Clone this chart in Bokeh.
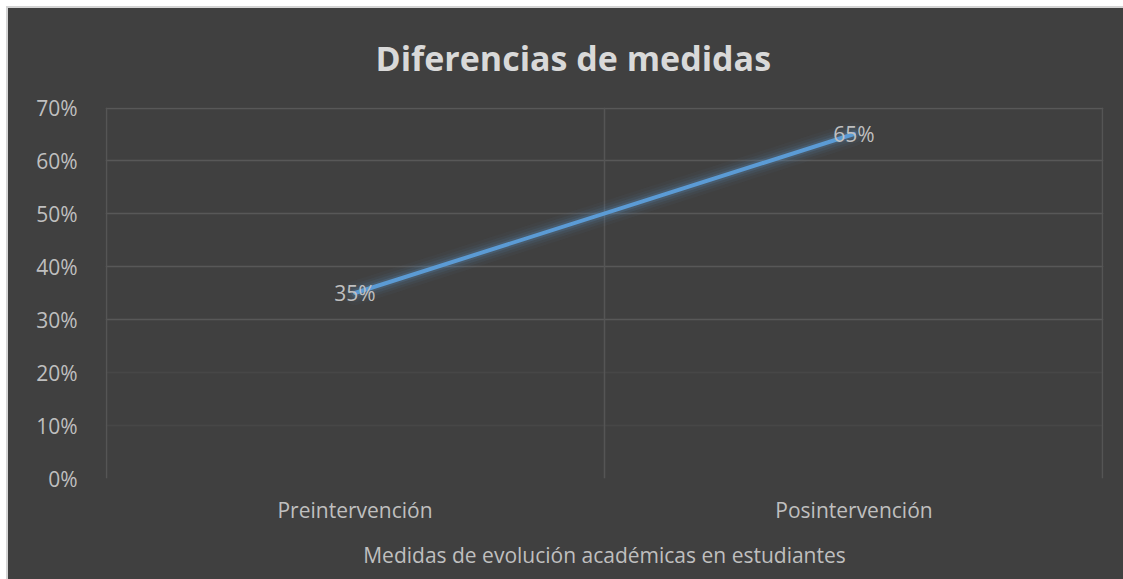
from bokeh.plotting import figure
from bokeh.models import FactorRange, Range1d, Grid, FixedTicker, NumeralTickFormatter
from bokeh.core.properties import value
from bokeh.embed import file_html
from bokeh.resources import INLINE

categories = ["Preintervención", "Posintervención"]
values = [0.35, 0.65]
y_ticks = [0.0, 0.1, 0.2, 0.3, 0.4, 0.5, 0.6, 0.7]
labels = [f"{round(v * 100)}%" for v in values]
title_text = "Diferencias de medidas"

BG = "#404040"
TXT = "#bfbfbf"
FONT = "Open Sans"
INSET_X = 0.003   # keep edge grid lines inside the frame clip
INSET_Y = 0.0015

p = figure(width=1115, height=571,
           x_range=FactorRange(*categories), y_range=Range1d(0, 0.7),
           output_backend="svg", toolbar_location=None,
           min_border_left=97, min_border_right=20,
           min_border_top=99, min_border_bottom=101,
           margin=(8, 0, 0, 8),
           styles={"outline": "2px solid #d4d4d4", "background-color": BG})
p.background_fill_color = BG
p.border_fill_color = BG
p.outline_line_color = None

p.title.text = title_text
p.title.align = "left"
p.title.offset = 270
p.title.vertical_align = "top"
p.title.text_font = FONT
p.title.text_font_size = "34px"
p.title.text_font_style = "bold"
p.title.text_color = "#d9d9d9"
p.title.standoff = 50

n = len(categories)
bright_grid = [0.3, 0.4, 0.5, 0.6, y_ticks[-1] - INSET_Y]
faint_grid = [0.1, 0.2]
v_grid = [INSET_X, n / 2, n - INSET_X]

p.xgrid.grid_line_color = None
p.ygrid.grid_line_color = None
p.add_layout(Grid(dimension=1, ticker=FixedTicker(ticks=bright_grid),
                  grid_line_color="#585858", grid_line_width=1.5))
p.add_layout(Grid(dimension=1, ticker=FixedTicker(ticks=faint_grid),
                  grid_line_color="#474747", grid_line_width=1.5))
p.add_layout(Grid(dimension=0, ticker=FixedTicker(ticks=v_grid),
                  grid_line_color="#555555", grid_line_width=1.5))

p.xaxis.axis_line_color = None
p.yaxis.axis_line_color = None
p.xaxis.major_tick_line_color = None
p.yaxis.major_tick_line_color = None
p.xaxis.minor_tick_line_color = None
p.yaxis.minor_tick_line_color = None
for ax in (p.xaxis, p.yaxis):
    ax.major_label_text_color = TXT
    ax.major_label_text_font = FONT
    ax.major_label_text_font_size = "21px"

p.yaxis.ticker = FixedTicker(ticks=y_ticks)
p.yaxis.formatter = NumeralTickFormatter(format="0%")
p.yaxis.major_label_standoff = 22

p.xaxis.major_label_standoff = 11
p.xaxis.axis_label = "Medidas de evolución académicas en estudiantes"
p.xaxis.axis_label_text_font = FONT
p.xaxis.axis_label_text_font_size = "21px"
p.xaxis.axis_label_text_font_style = "normal"
p.xaxis.axis_label_text_color = TXT
p.xaxis.axis_label_standoff = 14

# glow
for w, a in [(24, 0.04), (18, 0.06), (13, 0.09), (8, 0.16)]:
    p.line(categories, values, line_color="#5b9bd5", line_width=w,
           line_alpha=a, line_cap="round")
p.line(categories, values, line_color="#5b9bd5", line_width=4, line_cap="round")

p.text(x=categories, y=values, text=labels, text_align="center",
       text_baseline="middle", text_color=TXT, text_font=value(FONT),
       text_font_size="21px")

open("out.html", "w").write(file_html(p, INLINE))
